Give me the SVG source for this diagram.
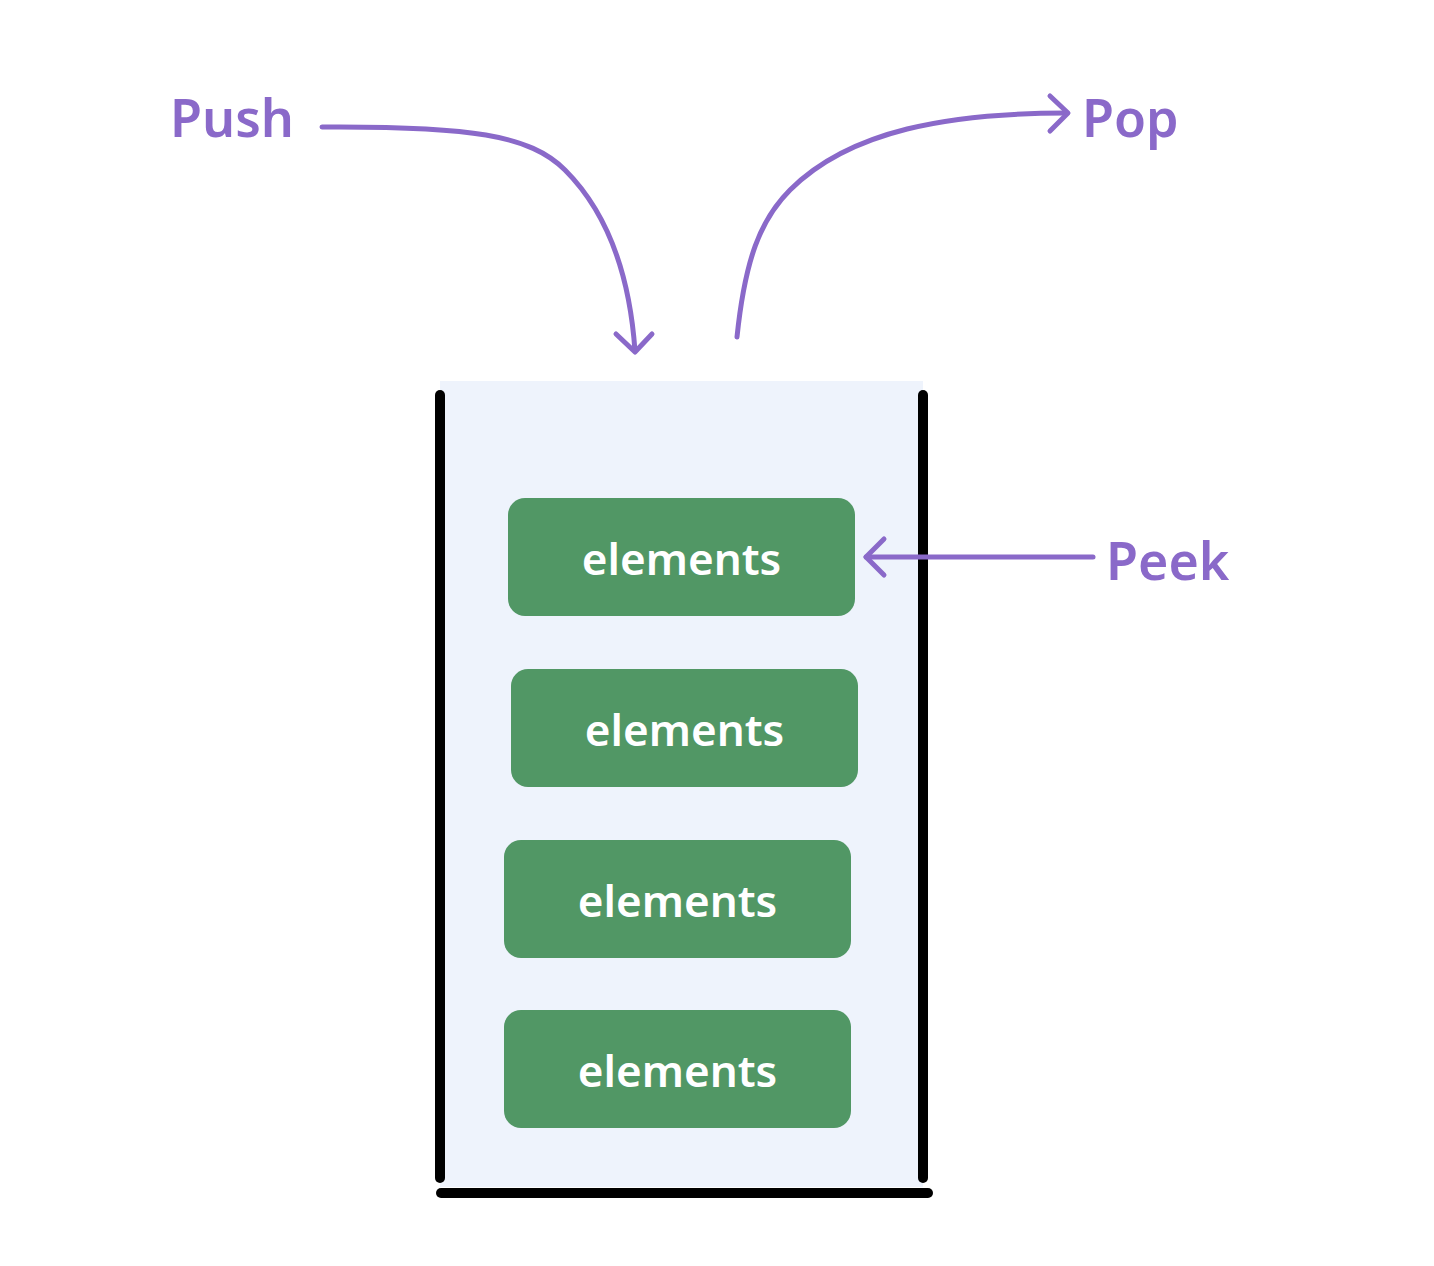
<svg xmlns="http://www.w3.org/2000/svg" width="1434" height="1266" viewBox="0 0 1434 1266">
<style>
.lbl{font-family:"Noto Sans","Open Sans","Liberation Sans",sans-serif;font-weight:600;font-size:52px;fill:#8a69c9}
.el rect{fill:#519765}
.el text{font-family:"Noto Sans","Open Sans","Liberation Sans",sans-serif;font-weight:600;font-size:44px;fill:#ffffff;text-anchor:middle}
.wall{stroke:#000;stroke-width:10;stroke-linecap:round;fill:none}
.conn path{stroke:#8a69c9;stroke-width:5;stroke-linecap:round;stroke-linejoin:round;fill:none}
</style>
<rect width="1434" height="1266" fill="#ffffff"/>
<g id="stack">
<rect x="440" y="381" width="483" height="806" fill="#eef3fc"/>
<line class="wall" x1="440" y1="395" x2="440" y2="1178"/>
<line class="wall" x1="923" y1="395" x2="923" y2="1178"/>
<line class="wall" x1="441" y1="1193" x2="928" y2="1193" stroke-width="11"/>
</g>
<g id="el1" class="el"><rect x="508" y="498" width="347" height="118" rx="17"/><text x="681.5" y="575">elements</text></g>
<g id="el2" class="el"><rect x="511" y="669" width="347" height="118" rx="17"/><text x="684.5" y="746">elements</text></g>
<g id="el3" class="el"><rect x="504" y="840" width="347" height="118" rx="17"/><text x="677.5" y="917">elements</text></g>
<g id="el4" class="el"><rect x="504" y="1010" width="347" height="118" rx="17"/><text x="677.5" y="1087">elements</text></g>
<g id="push"><text class="lbl" x="170" y="137">Push</text></g>
<g id="pop"><text class="lbl" x="1082" y="137">Pop</text></g>
<g id="peek"><text class="lbl" x="1106" y="580">Peek</text></g>
<g id="connectors" class="conn">
<path d="M322,127 C470,126 530,135 565,170 C610,215 630,280 635,351"/>
<path d="M616,334 L635,352 L652,334"/>
<path d="M737,337 C745,260 760,220 790,190 C850,130 950,113 1067,113"/>
<path d="M1050,96 L1068,113 L1050,131"/>
<path d="M1093,557 L866,557"/>
<path d="M884,539 L866,557 L884,575"/>
</g>
</svg>
